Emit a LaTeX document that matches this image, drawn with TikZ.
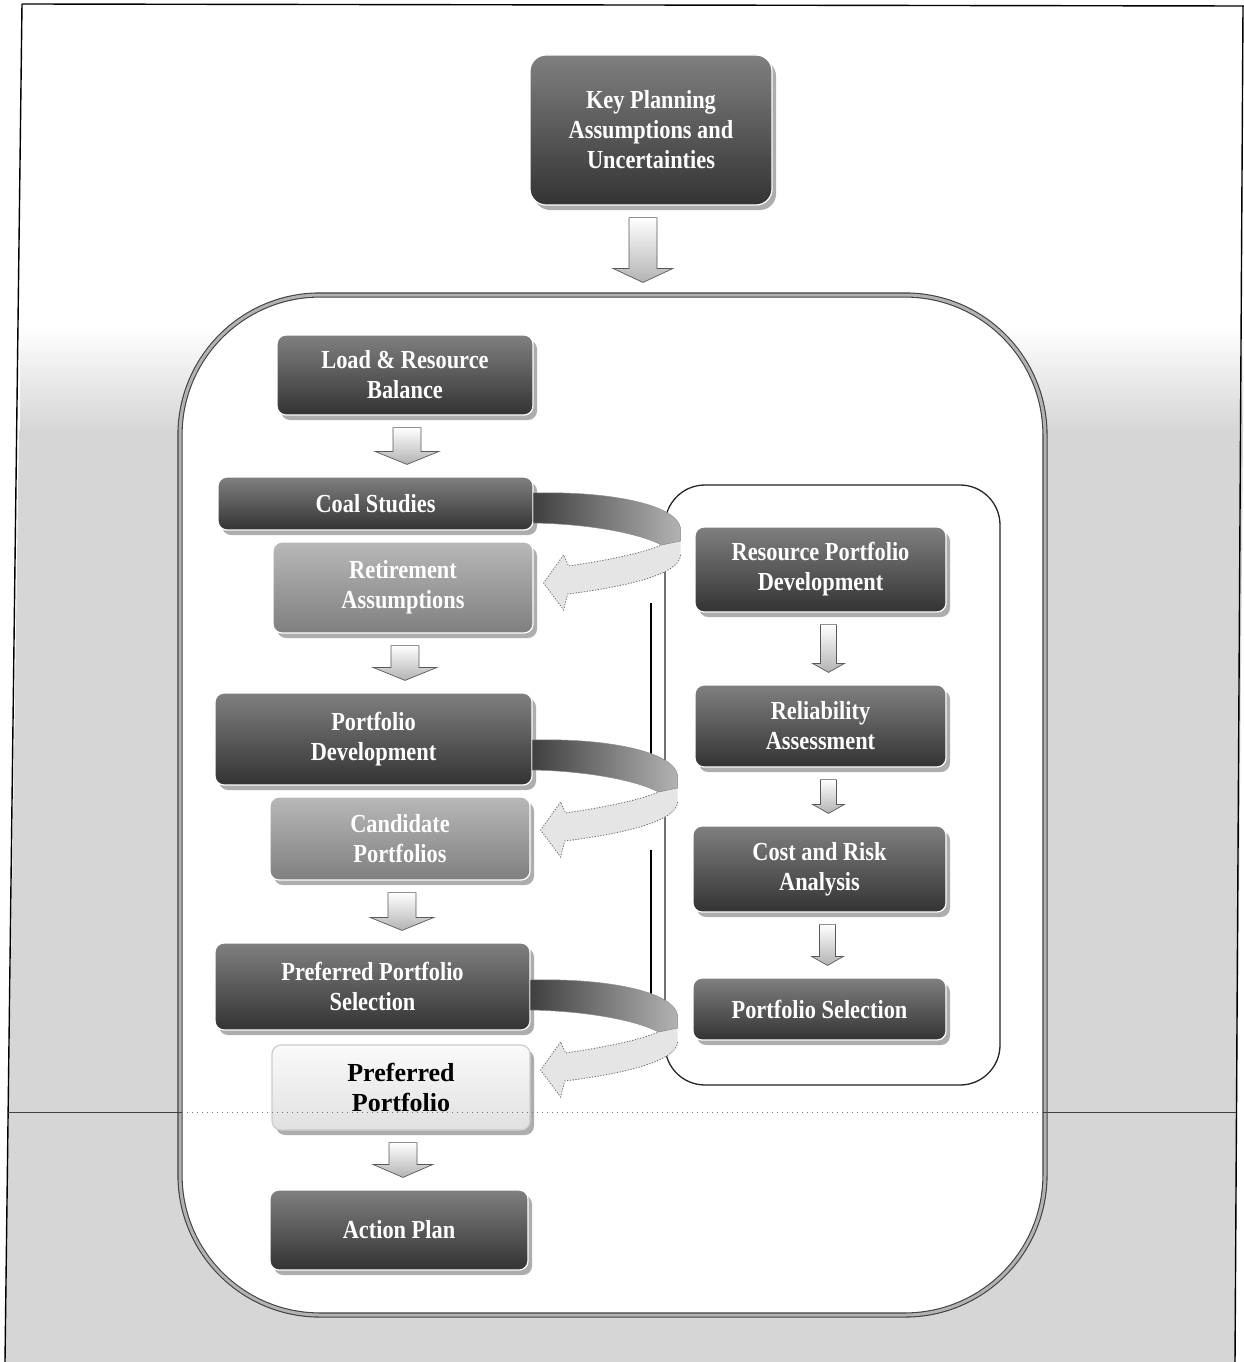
\documentclass[tikz,border=0pt]{standalone}
\usepackage{fontspec}
\setmainfont{Liberation Serif}
\newfontfamily\boxfont[FakeStretch=0.86]{Liberation Serif}
\usetikzlibrary{calc,shadows}

\newcommand\blockarr[6]{% from, to, dx, shaft half, head half, head length
  \path[barrow] let \p1=(#1.south), \p2=(#2.north) in
    (\x1+#3pt-#4pt,\y1-12pt) -- (\x1+#3pt+#4pt,\y1-12pt)
    -- (\x1+#3pt+#4pt,\y2+12pt+#6pt) -- (\x1+#3pt+#5pt,\y2+12pt+#6pt)
    -- (\x1+#3pt,\y2+12pt) -- (\x1+#3pt-#5pt,\y2+12pt+#6pt)
    -- (\x1+#3pt-#4pt,\y2+12pt+#6pt) -- cycle;}

\newcommand\looparrow[3]{% from, to, dy of tip
  \coordinate (tip#2) at ($(#2.east)+(10,#3)$);
  \begin{scope}[shift={(tip#2)}]
    \fill[black!10] (137,-42) -- (137,-28) .. controls (136,-8) and (80,4) .. (24,11)
      -- (20,27) -- (0,0) -- (20,-28) -- (25,-17)
      .. controls (60,-22) and (100,-30) .. (118,-38) -- cycle;
    \draw[black!60, line width=0.8pt, dash pattern=on 1.2pt off 1.6pt]
      (137,-28) .. controls (136,-8) and (80,4) .. (24,11)
      -- (20,27) -- (0,0) -- (20,-28) -- (25,-17)
      .. controls (60,-22) and (100,-30) .. (118,-38);
    \shade[left color=black!75, right color=black!30, draw=black!45, line width=0.5pt]
      (#1.east |- 0,-90) .. controls (60,-92) and (132,-80) .. (137,-55)
      -- (137,-42) -- (118,-38)
      .. controls (95,-50) and (45,-59) .. (#1.east |- 0,-60) -- cycle;
  \end{scope}}

\begin{document}
\begin{tikzpicture}[x=1pt,y=-1pt,
  box/.style={rounded corners=9pt, draw=white, line width=1.2pt, align=center, inner sep=4pt,
    font=\boxfont\bfseries\fontsize{26}{30}\selectfont, text=white,
    drop shadow={shadow xshift=4pt, shadow yshift=-5pt, fill=black!40, opacity=0.8}},
  darkbox/.style={box, top color=black!50, bottom color=black!80},
  lightbox/.style={box, top color=black!28, bottom color=black!50},
  palebox/.style={box, top color=black!2, bottom color=black!12, text=black, draw=black!20,
    font=\bfseries\fontsize{26}{30}\selectfont},
  barrow/.style={top color=white, bottom color=black!30, draw=black!65, line width=0.7pt},
]
\useasboundingbox (0,0) rectangle (1244,1362);
\fill[white] (0,0) rectangle (1244,1362);
% halftone background
\fill[black!16] (19,430) -- (1243,430) -- (1235,1362) -- (5,1362) -- cycle;
\shade[top color=white, bottom color=black!16] (20,325) rectangle (1243,431);
% page frame
\draw[black, line width=1.4pt] (22,4) -- (1244,6);
\draw[black, line width=1.4pt] (22,4) -- (5,1362);
\draw[black, line width=1.4pt] (1243,6) -- (1235,1362);

% outer rounded panel
\node[draw=black!75, double=black!30, double distance=3pt, line width=1.1pt, fill=white,
  rounded corners=140pt, minimum width=865pt, minimum height=1020pt] (outer) at (612.5,805) {};
% inner rounded panel
\node[draw=black!85, line width=1.3pt, rounded corners=40pt,
  minimum width=335pt, minimum height=600pt] (inner) at (832.5,785) {};

% vertical separator
\draw[black, line width=1.2pt] (651,603) -- (651,756);
\draw[black, line width=1.2pt] (651,850) -- (651,1005);

% top box
\node[darkbox, rounded corners=16pt, minimum width=242pt, minimum height=150pt] (kpa) at (651,130)
  {Key Planning\\Assumptions and\\Uncertainties};

% left column
\node[darkbox, minimum width=256pt, minimum height=80pt] (load) at (405,375) {Load \& Resource\\Balance};
\node[darkbox, minimum width=315pt, minimum height=53pt] (coal) at (375.5,503.5) {Coal Studies};
\node[lightbox, minimum width=260pt, minimum height=91pt] (ret) at (403,587.5) {Retirement\\Assumptions};
\node[darkbox, minimum width=317pt, minimum height=92pt] (pd) at (373.5,739) {Portfolio\\Development};
\node[lightbox, minimum width=260pt, minimum height=83pt] (cand) at (400,838.5) {Candidate\\Portfolios};
\node[darkbox, minimum width=315pt, minimum height=87pt] (pps) at (372.5,986.5) {Preferred Portfolio\\Selection};
\node[palebox, minimum width=258pt, minimum height=85pt] (pp) at (401,1087.5) {Preferred\\Portfolio};
\node[darkbox, minimum width=258pt, minimum height=80pt] (ap) at (399,1230) {Action Plan};

% right column
\node[darkbox, minimum width=251pt, minimum height=85pt] (rpd) at (820.5,569.5) {Resource Portfolio\\Development};
\node[darkbox, minimum width=251pt, minimum height=82pt] (rel) at (820.5,726) {Reliability\\Assessment};
\node[darkbox, minimum width=253pt, minimum height=86pt] (cra) at (819.5,869) {Cost and Risk\\Analysis};
\node[darkbox, minimum width=253pt, minimum height=62pt] (ps) at (819.5,1009) {Portfolio Selection};

% block arrows
\blockarr{kpa}{outer}{-8}{14}{30}{14}
\blockarr{load}{coal}{2}{14}{32}{13}
\blockarr{ret}{pd}{2}{14}{32}{13}
\blockarr{cand}{pps}{2}{14}{32}{13}
\blockarr{pp}{ap}{2}{14}{30}{13}
\blockarr{rpd}{rel}{8}{8}{16}{9}
\blockarr{rel}{cra}{8}{8}{16}{9}
\blockarr{cra}{ps}{8}{8}{16}{9}

% looping arrows
\looparrow{coal}{ret}{-4.5}
\looparrow{pd}{cand}{-8.5}
\looparrow{pps}{pp}{-17.5}

% horizontal rule across page
\draw[black!75, line width=0.8pt] (8,1112) -- (182,1112);
\draw[black!55, line width=0.8pt, dash pattern=on 1pt off 4pt] (182,1112) -- (1043,1112);
\draw[black!75, line width=0.8pt] (1043,1112) -- (1236,1112);
\end{tikzpicture}
\end{document}
